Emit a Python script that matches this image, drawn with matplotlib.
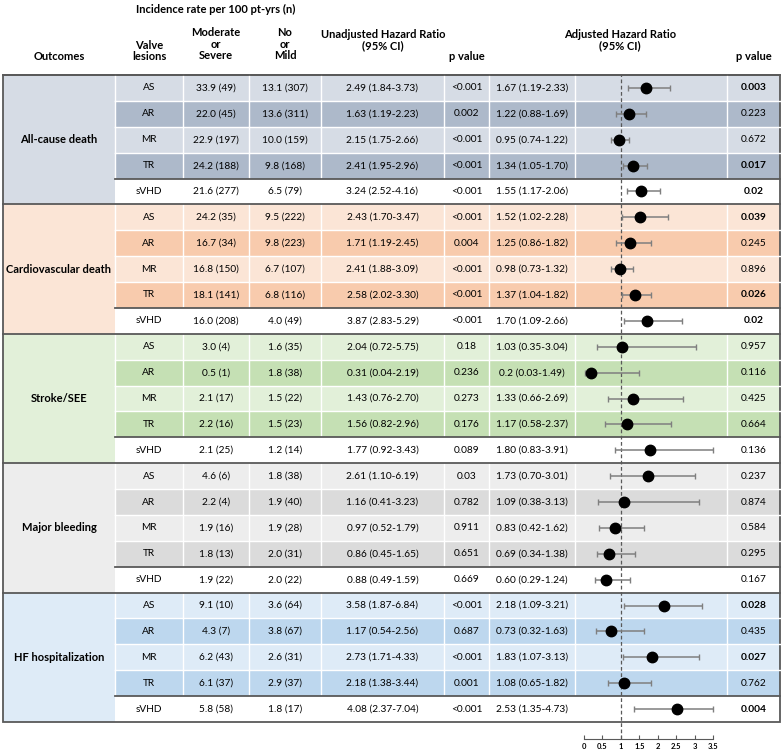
import numpy as np
import matplotlib
matplotlib.use("Agg")
import matplotlib.pyplot as plt
from matplotlib.patches import Rectangle

plt.rcParams["font.family"] = ["Lato", "DejaVu Sans"]

# ---- data -------------------------------------------------------------
outcomes = ["All-cause death", "Cardiovascular death", "Stroke/SEE",
            "Major bleeding", "HF hospitalization"]
lesions = ["AS", "AR", "MR", "TR", "sVHD"]

mod_sev = ["33.9 (49)", "22.0 (45)", "22.9 (197)", "24.2 (188)", "21.6 (277)",
           "24.2 (35)", "16.7 (34)", "16.8 (150)", "18.1 (141)", "16.0 (208)",
           "3.0 (4)", "0.5 (1)", "2.1 (17)", "2.2 (16)", "2.1 (25)",
           "4.6 (6)", "2.2 (4)", "1.9 (16)", "1.8 (13)", "1.9 (22)",
           "9.1 (10)", "4.3 (7)", "6.2 (43)", "6.1 (37)", "5.8 (58)"]
no_mild = ["13.1 (307)", "13.6 (311)", "10.0 (159)", "9.8 (168)", "6.5 (79)",
           "9.5 (222)", "9.8 (223)", "6.7 (107)", "6.8 (116)", "4.0 (49)",
           "1.6 (35)", "1.8 (38)", "1.5 (22)", "1.5 (23)", "1.2 (14)",
           "1.8 (38)", "1.9 (40)", "1.9 (28)", "2.0 (31)", "2.0 (22)",
           "3.6 (64)", "3.8 (67)", "2.6 (31)", "2.9 (37)", "1.8 (17)"]
unadj_hr = ["2.49 (1.84-3.73)", "1.63 (1.19-2.23)", "2.15 (1.75-2.66)", "2.41 (1.95-2.96)", "3.24 (2.52-4.16)",
            "2.43 (1.70-3.47)", "1.71 (1.19-2.45)", "2.41 (1.88-3.09)", "2.58 (2.02-3.30)", "3.87 (2.83-5.29)",
            "2.04 (0.72-5.75)", "0.31 (0.04-2.19)", "1.43 (0.76-2.70)", "1.56 (0.82-2.96)", "1.77 (0.92-3.43)",
            "2.61 (1.10-6.19)", "1.16 (0.41-3.23)", "0.97 (0.52-1.79)", "0.86 (0.45-1.65)", "0.88 (0.49-1.59)",
            "3.58 (1.87-6.84)", "1.17 (0.54-2.56)", "2.73 (1.71-4.33)", "2.18 (1.38-3.44)", "4.08 (2.37-7.04)"]
unadj_p = ["<0.001", "0.002", "<0.001", "<0.001", "<0.001",
           "<0.001", "0.004", "<0.001", "<0.001", "<0.001",
           "0.18", "0.236", "0.273", "0.176", "0.089",
           "0.03", "0.782", "0.911", "0.651", "0.669",
           "<0.001", "0.687", "<0.001", "0.001", "<0.001"]
adj_txt = ["1.67 (1.19-2.33)", "1.22 (0.88-1.69)", "0.95 (0.74-1.22)", "1.34 (1.05-1.70)", "1.55 (1.17-2.06)",
           "1.52 (1.02-2.28)", "1.25 (0.86-1.82)", "0.98 (0.73-1.32)", "1.37 (1.04-1.82)", "1.70 (1.09-2.66)",
           "1.03 (0.35-3.04)", "0.2 (0.03-1.49)", "1.33 (0.66-2.69)", "1.17 (0.58-2.37)", "1.80 (0.83-3.91)",
           "1.73 (0.70-3.01)", "1.09 (0.38-3.13)", "0.83 (0.42-1.62)", "0.69 (0.34-1.38)", "0.60 (0.29-1.24)",
           "2.18 (1.09-3.21)", "0.73 (0.32-1.63)", "1.83 (1.07-3.13)", "1.08 (0.65-1.82)", "2.53 (1.35-4.73)"]
adj_hr = [1.67, 1.22, 0.95, 1.34, 1.55, 1.52, 1.25, 0.98, 1.37, 1.70,
          1.03, 0.2, 1.33, 1.17, 1.80, 1.73, 1.09, 0.83, 0.69, 0.60,
          2.18, 0.73, 1.83, 1.08, 2.53]
adj_lo = [1.19, 0.88, 0.74, 1.05, 1.17, 1.02, 0.86, 0.73, 1.04, 1.09,
          0.35, 0.03, 0.66, 0.58, 0.83, 0.70, 0.38, 0.42, 0.34, 0.29,
          1.09, 0.32, 1.07, 0.65, 1.35]
adj_hi = [2.33, 1.69, 1.22, 1.70, 2.06, 2.28, 1.82, 1.32, 1.82, 2.66,
          3.04, 1.49, 2.69, 2.37, 3.91, 3.01, 3.13, 1.62, 1.38, 1.24,
          3.21, 1.63, 3.13, 1.82, 4.73]
adj_p = ["0.003", "0.223", "0.672", "0.017", "0.02",
         "0.039", "0.245", "0.896", "0.026", "0.02",
         "0.957", "0.116", "0.425", "0.664", "0.136",
         "0.237", "0.874", "0.584", "0.295", "0.167",
         "0.028", "0.435", "0.027", "0.762", "0.004"]
axis_ticks = [0, 0.5, 1, 1.5, 2, 2.5, 3, 3.5]

group_colors = [("#D6DCE5", "#ADB9CA"), ("#FBE5D6", "#F8CBAD"),
                ("#E2F0D9", "#C5E0B4"), ("#EDEDED", "#DBDBDB"),
                ("#DEEBF7", "#BDD7EE")]

# ---- layout (pixels) --------------------------------------------------
W, H = 783, 754
LEFT, RIGHT = 3, 780
TOP, BOTTOM = 75, 722
cols = [LEFT, 115, 183, 249, 321, 444, 489, 575, 727, RIGHT]
n_rows = len(lesions) * len(outcomes)
rh = (BOTTOM - TOP) / n_rows
EDGE = "#595959"

fig = plt.figure(figsize=(W / 100, H / 100), dpi=100)
ax = fig.add_axes([0, 0, 1, 1])
ax.set_xlim(0, W)
ax.set_ylim(H, 0)
ax.axis("off")


def mid(i):
    return (cols[i] + cols[i + 1]) / 2


# header
hfs = 8
ax.text(216, 9, "Incidence rate per 100 pt-yrs (n)", ha="center", va="center",
        fontsize=hfs, fontweight="bold")
ax.text(mid(0), 57, "Outcomes", ha="center", va="center", fontsize=hfs, fontweight="bold")
ax.text(mid(1), 51, "Valve\nlesions", ha="center", va="center", fontsize=hfs,
        fontweight="bold", linespacing=1.1)
ax.text(mid(2), 44, "Moderate\nor\nSevere", ha="center", va="center", fontsize=hfs,
        fontweight="bold", linespacing=1.1)
ax.text(mid(3), 44, "No\nor\nMild", ha="center", va="center", fontsize=hfs,
        fontweight="bold", linespacing=1.1)
ax.text(383, 40, "Unadjusted Hazard Ratio\n(95% CI)", ha="center", va="center",
        fontsize=hfs, fontweight="bold", linespacing=1.1)
ax.text(mid(5), 57, "p value", ha="center", va="center", fontsize=hfs, fontweight="bold")
ax.text(620, 40, "Adjusted Hazard Ratio\n(95% CI)", ha="center", va="center",
        fontsize=hfs, fontweight="bold", linespacing=1.1)
ax.text(mid(8), 57, "p value", ha="center", va="center", fontsize=hfs, fontweight="bold")

# body
fs = 7.3
for g, name in enumerate(outcomes):
    light, dark = group_colors[g]
    gtop = TOP + g * len(lesions) * rh
    ax.add_patch(Rectangle((cols[0], gtop), cols[1] - cols[0], len(lesions) * rh,
                           facecolor=light, edgecolor="none"))
    ax.text(mid(0), gtop + 2.5 * rh, name, ha="center", va="center",
            fontsize=8, fontweight="bold")
    for j, les in enumerate(lesions):
        i = g * len(lesions) + j
        y0 = gtop + j * rh
        if les == "sVHD":
            fc = "white"
        else:
            fc = light if j % 2 == 0 else dark
        ax.add_patch(Rectangle((cols[1], y0), RIGHT - cols[1], rh,
                               facecolor=fc, edgecolor="none"))
        if les != "sVHD":
            for c in cols[1:-1]:
                ax.plot([c, c], [y0, y0 + rh], color="white", lw=1)
            if j > 0:
                ax.plot([cols[1], RIGHT], [y0, y0], color="white", lw=1)
        yc = y0 + rh / 2
        ax.text(mid(1), yc, les, ha="center", va="center", fontsize=fs)
        ax.text(mid(2), yc, mod_sev[i], ha="center", va="center", fontsize=fs)
        ax.text(mid(3), yc, no_mild[i], ha="center", va="center", fontsize=fs)
        ax.text(mid(4), yc, unadj_hr[i], ha="center", va="center", fontsize=fs)
        ax.text(mid(5), yc, unadj_p[i], ha="center", va="center", fontsize=fs)
        ax.text(mid(6), yc, adj_txt[i], ha="center", va="center", fontsize=fs)
        sig = float(adj_p[i]) < 0.05
        ax.text(mid(8), yc, adj_p[i], ha="center", va="center", fontsize=fs,
                fontweight="bold" if sig else "normal")
    # separators
    ax.plot([LEFT, RIGHT], [gtop, gtop], color=EDGE, lw=1.3)
    ysv = gtop + (len(lesions) - 1) * rh
    ax.plot([cols[1], RIGHT], [ysv, ysv], color=EDGE, lw=1.3)

ax.add_patch(Rectangle((LEFT, TOP), RIGHT - LEFT, BOTTOM - TOP,
                       facecolor="none", edgecolor=EDGE, lw=1.3))

# forest plot
x0_px, x1_px = cols[7], cols[8]
axis_y = 739
zero_px, unit_px = 584, 36.9
fx = fig.add_axes([x0_px / W, (H - axis_y) / H, (x1_px - x0_px) / W, (axis_y - TOP) / H])
fx.patch.set_alpha(0)
fx.set_xlim((x0_px - zero_px) / unit_px, (x1_px - zero_px) / unit_px)
fx.set_ylim((axis_y - TOP) / rh, 0)

ypos = np.arange(n_rows) + 0.5
hr = np.array(adj_hr)
lo = np.array(adj_lo)
hi = np.minimum(np.array(adj_hi), max(axis_ticks))
fx.axvline(1, color=EDGE, lw=0.9, linestyle=(0, (3, 2)), zorder=1)
fx.errorbar(hr, ypos, xerr=[hr - lo, hi - hr], fmt="none", ecolor="#7F7F7F",
            elinewidth=1.1, capsize=2, capthick=1, zorder=2)
fx.plot(hr, ypos, "o", color="black", markersize=7.5, zorder=3)

for s in ("top", "left", "right"):
    fx.spines[s].set_visible(False)
fx.spines["bottom"].set_bounds(0, max(axis_ticks))
fx.spines["bottom"].set_color(EDGE)
fx.set_yticks([])
fx.set_xticks(axis_ticks)
fx.set_xticklabels([f"{t:g}" for t in axis_ticks], fontsize=5.5, fontweight="bold")
fx.tick_params(axis="x", direction="in", length=3, width=0.8, color=EDGE, pad=3)

fig.savefig("out.png", dpi=100)
